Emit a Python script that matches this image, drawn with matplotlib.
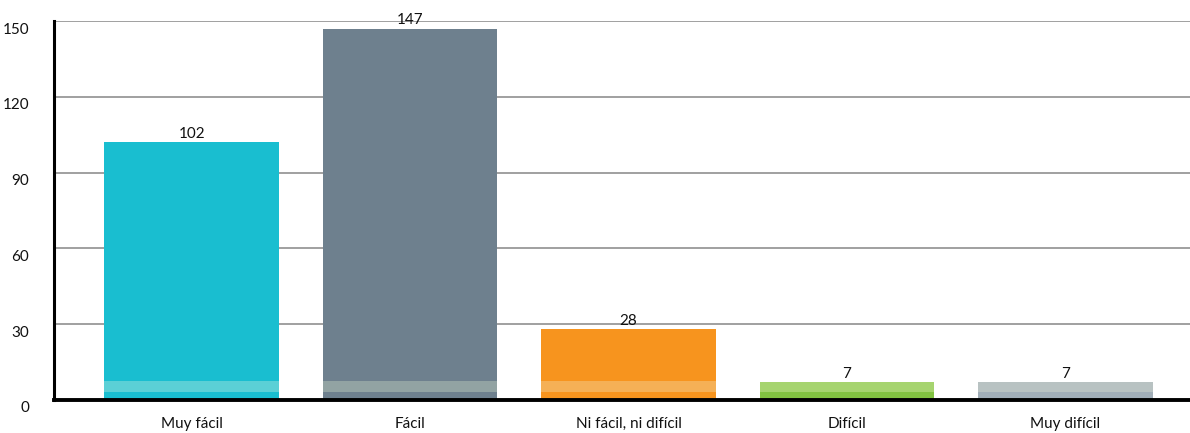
import numpy as np
import matplotlib
matplotlib.use("Agg")
import matplotlib.pyplot as plt
import matplotlib.transforms as mtrans

# data
categories = ["Muy fácil", "Fácil", "Ni fácil, ni difícil", "Difícil", "Muy difícil"]
values = [102, 147, 28, 7, 7]
y_ticks = [0, 30, 60, 90, 120, 150]

# colors: base and lighter band near the bottom
base_colors = ["#19BED0", "#6E808E", "#F7941E", "#82C341", "#A1AEB8"]
band_colors = ["#5BD0D6", "#92A3A3", "#F5B056", "#A6D46F", "#B8C2C2"]
band_lo, band_hi = 3.2, 7.6

plt.rcParams['font.family'] = ['Lato', 'DejaVu Sans']

fig = plt.figure(figsize=[11.9, 4.33], dpi=100)
ax = fig.add_axes([54/1190, 1 - 400/433, 1 - 54/1190, 379/433])

x = np.arange(len(categories))
bars = ax.bar(x, values, width=0.8, color=base_colors, zorder=2)

# lighter band, clipped to bar height
for i, v in enumerate(values):
    top = min(v, band_hi)
    ax.bar(x[i], top - band_lo, bottom=band_lo, width=0.8, color=band_colors[i], zorder=3)

for i, v in enumerate(values):
    ax.text(x[i], v + 0.6, str(v), ha='center', va='bottom', fontsize=11, color='#111111', zorder=4)

ax.set_xlim(-0.63, 4.57)
ax.set_ylim(0, 150)
ax.set_yticks(y_ticks)
ax.set_xticks(x)
ax.set_xticklabels(categories)
ax.tick_params(axis='both', length=0, labelsize=11, colors='#111111')
ax.tick_params(axis='y', pad=18)
ax.tick_params(axis='x', pad=12)

offset = mtrans.ScaledTranslation(0, -7/100, fig.dpi_scale_trans)
for lbl in ax.get_yticklabels():
    lbl.set_transform(lbl.get_transform() + offset)

ax.grid(axis='y', color='#999999', linewidth=1.3, zorder=0)
ax.set_axisbelow(True)

for s in ['top', 'right']:
    ax.spines[s].set_visible(False)
ax.spines['left'].set_linewidth(2.2)
ax.spines['left'].set_color('black')
ax.spines['bottom'].set_linewidth(2.8)
ax.spines['bottom'].set_color('black')
ax.spines['left'].set_zorder(5)
ax.spines['bottom'].set_zorder(5)

fig.savefig('out.png', dpi=100)
